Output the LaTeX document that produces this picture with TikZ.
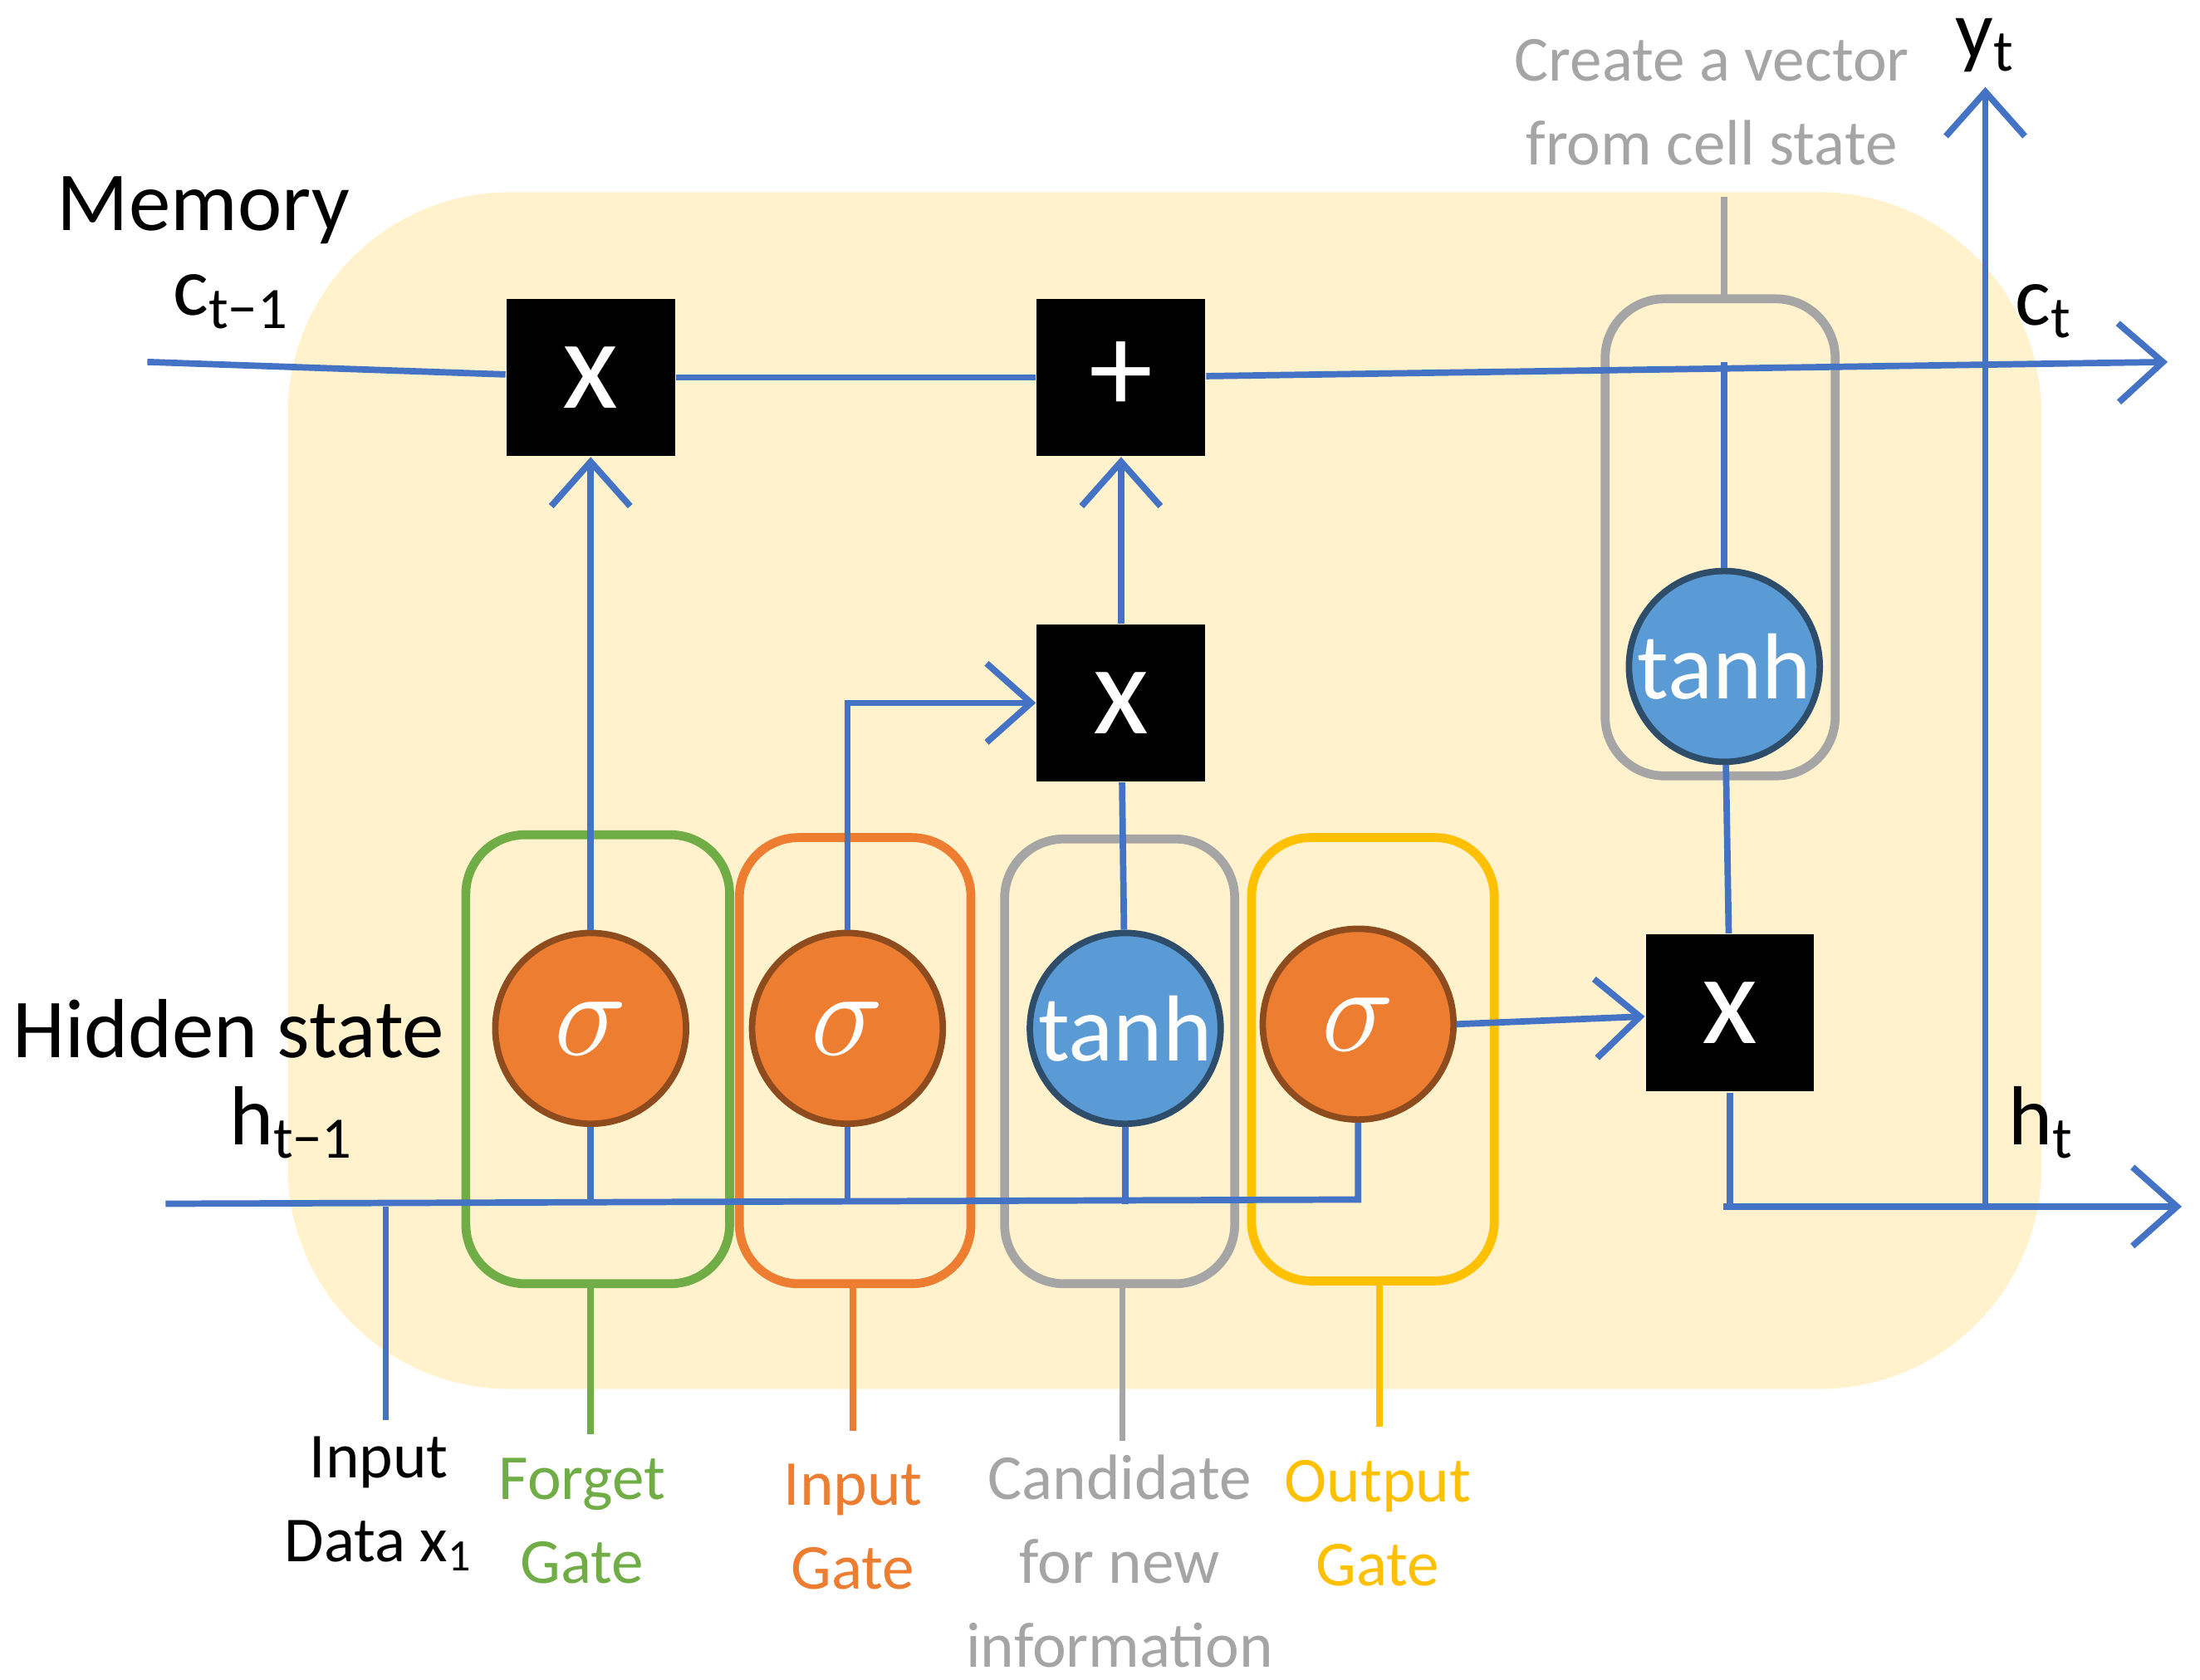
\documentclass[tikz,border=0pt]{standalone}
\usepackage{fontspec}
\setmainfont{Carlito}
\usetikzlibrary{arrows.meta}
\definecolor{lblue}{HTML}{4472C4}
\definecolor{corange}{HTML}{ED7D31}
\definecolor{cblue}{HTML}{5B9BD5}
\definecolor{cgreen}{HTML}{70AD47}
\definecolor{cgray}{HTML}{A5A5A5}
\definecolor{cyellow}{HTML}{FFC000}
\definecolor{bgyellow}{HTML}{FFF2CC}
\begin{document}
\begin{tikzpicture}[x=0.01cm,y=-0.01cm,
  flow/.style={lblue, line width=1.3pt},
  arr/.style={flow, -{Straight Barb[length=9pt,width=16pt,line width=1.3pt]}},
  op/.style={fill=black, text=white, minimum width=120*0.01cm, minimum height=112*0.01cm, font=\fontsize{26}{26}\selectfont},
  sig/.style={circle, fill=corange, draw=corange!60!black, line width=1.3pt, minimum size=136*0.01cm, text=white, inner sep=0pt, font=\fontsize{30}{30}\selectfont},
  tnh/.style={circle, fill=cblue, draw=cblue!50!black, line width=1.3pt, minimum size=136*0.01cm, text=white, inner sep=0pt, font=\fontsize{19}{19}\selectfont},
  gate/.style={rounded corners=12pt, line width=1.8pt},
  lbl/.style={font=\fontsize{13}{13}\selectfont, align=center},
  big/.style={font=\fontsize{17}{17}\selectfont}]
\useasboundingbox (0,0) rectangle (1568,1197);
\fill[bgyellow, rounded corners=45pt] (205,137) rectangle (1455,990);

% gate boxes
\draw[gate, cgreen] (332,595) rectangle (520,915);
\draw[gate, corange] (527,597) rectangle (692,915);
\draw[gate, cgray] (716,598) rectangle (880,915);
\draw[gate, cyellow] (892,597) rectangle (1065,913);
\draw[gate, cgray] (1144,213) rectangle (1308,553);

% operations
\node[op] (mulf) at (421,269) {x};
\node[op] (add) at (799,269) {+};
\node[op] (muli) at (799,501) {x};
\node[op] (mulo) at (1233,722) {x};
\node[sig] (sf) at (421,733) {$\sigma$};
\node[sig] (si) at (604,733) {$\sigma$};
\node[tnh] (tc) at (802,733) {tanh};
\node[sig] (so) at (968,730) {$\sigma$};
\node[tnh] (tt) at (1229,475) {tanh};

% coordinates
\coordinate (cin) at (105,258);
\coordinate (cout) at (1545,258);
\coordinate (hin) at (118,858);
\coordinate (hend) at (968,855);
\coordinate (hst) at (1228,860);
\coordinate (hout) at (1555,860);
\coordinate (ybot) at (1415,860);
\coordinate (ytop) at (1415,62);
\coordinate (xin) at (275,860);
\coordinate (xlow) at (275,1012);

% memory line
\draw[flow] (cin) -- (mulf);
\draw[flow] (mulf) -- (add);
\draw[arr] (add) -- (cout);
% hidden line
\draw[flow] (hin) -- (hend) -- (so);
\draw[flow] (sf |- hin) -- (sf);
\draw[flow] (si |- hin) -- (si);
\draw[flow] (tc |- hin) -- (tc);
\draw[flow] (xin) -- (xlow);
% gate paths
\draw[arr] (sf) -- (mulf);
\draw[arr] (si) |- (muli);
\draw[flow] (tc) -- (muli);
\draw[arr] (muli) -- (add);
\draw[arr] (so.east) -- (mulo);
\draw[flow] (tt |- cout) -- (tt);
\draw[flow] (tt) -- (mulo);
\draw[flow] (mulo) |- (hst);
\draw[arr] (hst) -- (hout);
\draw[arr] (ybot) -- (ytop);

% label lines
\draw[line width=1.3pt, cgreen] (421,915) -- (421,1022);
\draw[line width=1.3pt, corange] (608,915) -- (608,1020);
\draw[line width=1.3pt, cgray] (800,915) -- (800,1027);
\draw[line width=1.3pt, cyellow] (983,913) -- (983,1017);
\draw[line width=1.3pt, cgray] (1229,213) -- (1229,140);

% texts
\node[big] (mem) at (145,150) {Memory};
\node[big] (cprev) at (165,215) {c\textsubscript{t−1}};
\node[big] (hid) at (163,733) {Hidden state};
\node[big] (hprev) at (208,800) {h\textsubscript{t−1}};
\node[big] (hnext) at (1455,800) {h\textsubscript{t}};
\node[big] (cnext) at (1457,222) {c\textsubscript{t}};
\node[big] (yout) at (1415,32) {y\textsubscript{t}};
\node[lbl] (inp) at (270,1072) {Input\\[4pt]Data x\textsubscript{1}};
\node[lbl, cgreen] (fg) at (415,1084) {Forget\\[4pt]Gate};
\node[lbl, corange] (ig) at (608,1088) {Input\\[4pt]Gate};
\node[lbl, cgray] (cg) at (798,1113) {Candidate\\[4pt]for new\\[4pt]information};
\node[lbl, cyellow] (og) at (982,1086) {Output\\[4pt]Gate};
\node[lbl, cgray] (cv) at (1220,73) {Create a vector\\[4pt]from cell state};
\end{tikzpicture}
\end{document}
